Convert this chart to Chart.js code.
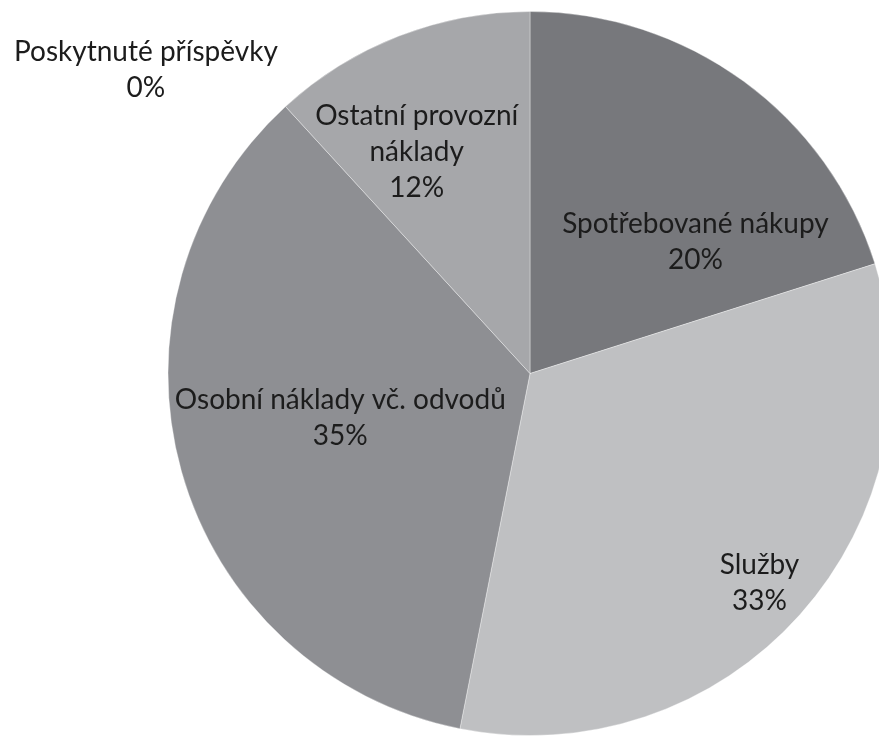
<!DOCTYPE html>
<html>
<head>
<meta charset="utf-8">
<script src="https://cdn.jsdelivr.net/npm/chart.js@4/dist/chart.umd.min.js"></script>
<style>
  html, body { margin: 0; padding: 0; background: #fff; overflow: hidden; }
  #wrap { position: absolute; left: 0; top: 0; width: 930px; height: 736px; }
</style>
</head>
<body>
<div id="wrap"><canvas id="pie" width="930" height="736"></canvas></div>
<script>
//------------------------------------------------------
// DATA
//------------------------------------------------------
const categories = [
  ['Spotřebované nákupy'],
  ['Služby'],
  ['Osobní náklady vč. odvodů'],
  ['Ostatní provozní', 'náklady'],
  ['Poskytnuté příspěvky']
];
const shares = [20.1, 33.0, 35.1, 11.8, 0];
const sliceColors = ['#77787c', '#bfc0c2', '#8e8f93', '#a6a7aa', '#d0d0d0'];

// label block centres, relative to pie centre, in units of radius
const labelAnchors = [
  [0.457, -0.366],
  [0.634, 0.576],
  [-0.524, 0.119],
  [-0.313, -0.615],
  [-1.061, -0.841]
];

//------------------------------------------------------
// LABEL PLUGIN
//------------------------------------------------------
const sliceLabels = {
  id: 'sliceLabels',
  afterDatasetsDraw(chart) {
    const ctx = chart.ctx;
    const meta = chart.getDatasetMeta(0);
    const total = shares.reduce((a, b) => a + b, 0);
    ctx.save();
    ctx.font = '28px Lato';
    ctx.fillStyle = '#1c1c1c';
    ctx.textAlign = 'center';
    ctx.textBaseline = 'alphabetic';
    meta.data.forEach((arc, i) => {
      const r = arc.outerRadius;
      const cx = arc.x + labelAnchors[i][0] * r;
      const cy = arc.y + labelAnchors[i][1] * r;
      const lines = categories[i].concat([Math.round(shares[i] / total * 100) + '%']);
      const step = 36;
      lines.forEach((t, k) => {
        const y = cy + (k - (lines.length - 1) / 2) * step + 10;
        ctx.fillText(t, cx, y);
      });
    });
    ctx.restore();
  }
};

const ctx = document.getElementById('pie').getContext('2d');
const pieChart = new Chart(ctx, {
  type: 'pie',
  data: {
    labels: categories.map(c => c.join(' ')),
    datasets: [{
      data: shares,
      backgroundColor: sliceColors,
      borderColor: 'rgba(255,255,255,0.35)',
      borderWidth: 1
    }]
  },
  options: {
    responsive: false,
    animation: false,
    layout: { padding: { left: 167, top: 11, right: 37, bottom: 0 } },
    plugins: {
      legend: { display: false },
      tooltip: { enabled: false }
    }
  },
  plugins: [sliceLabels]
});
</script>
</body>
</html>
